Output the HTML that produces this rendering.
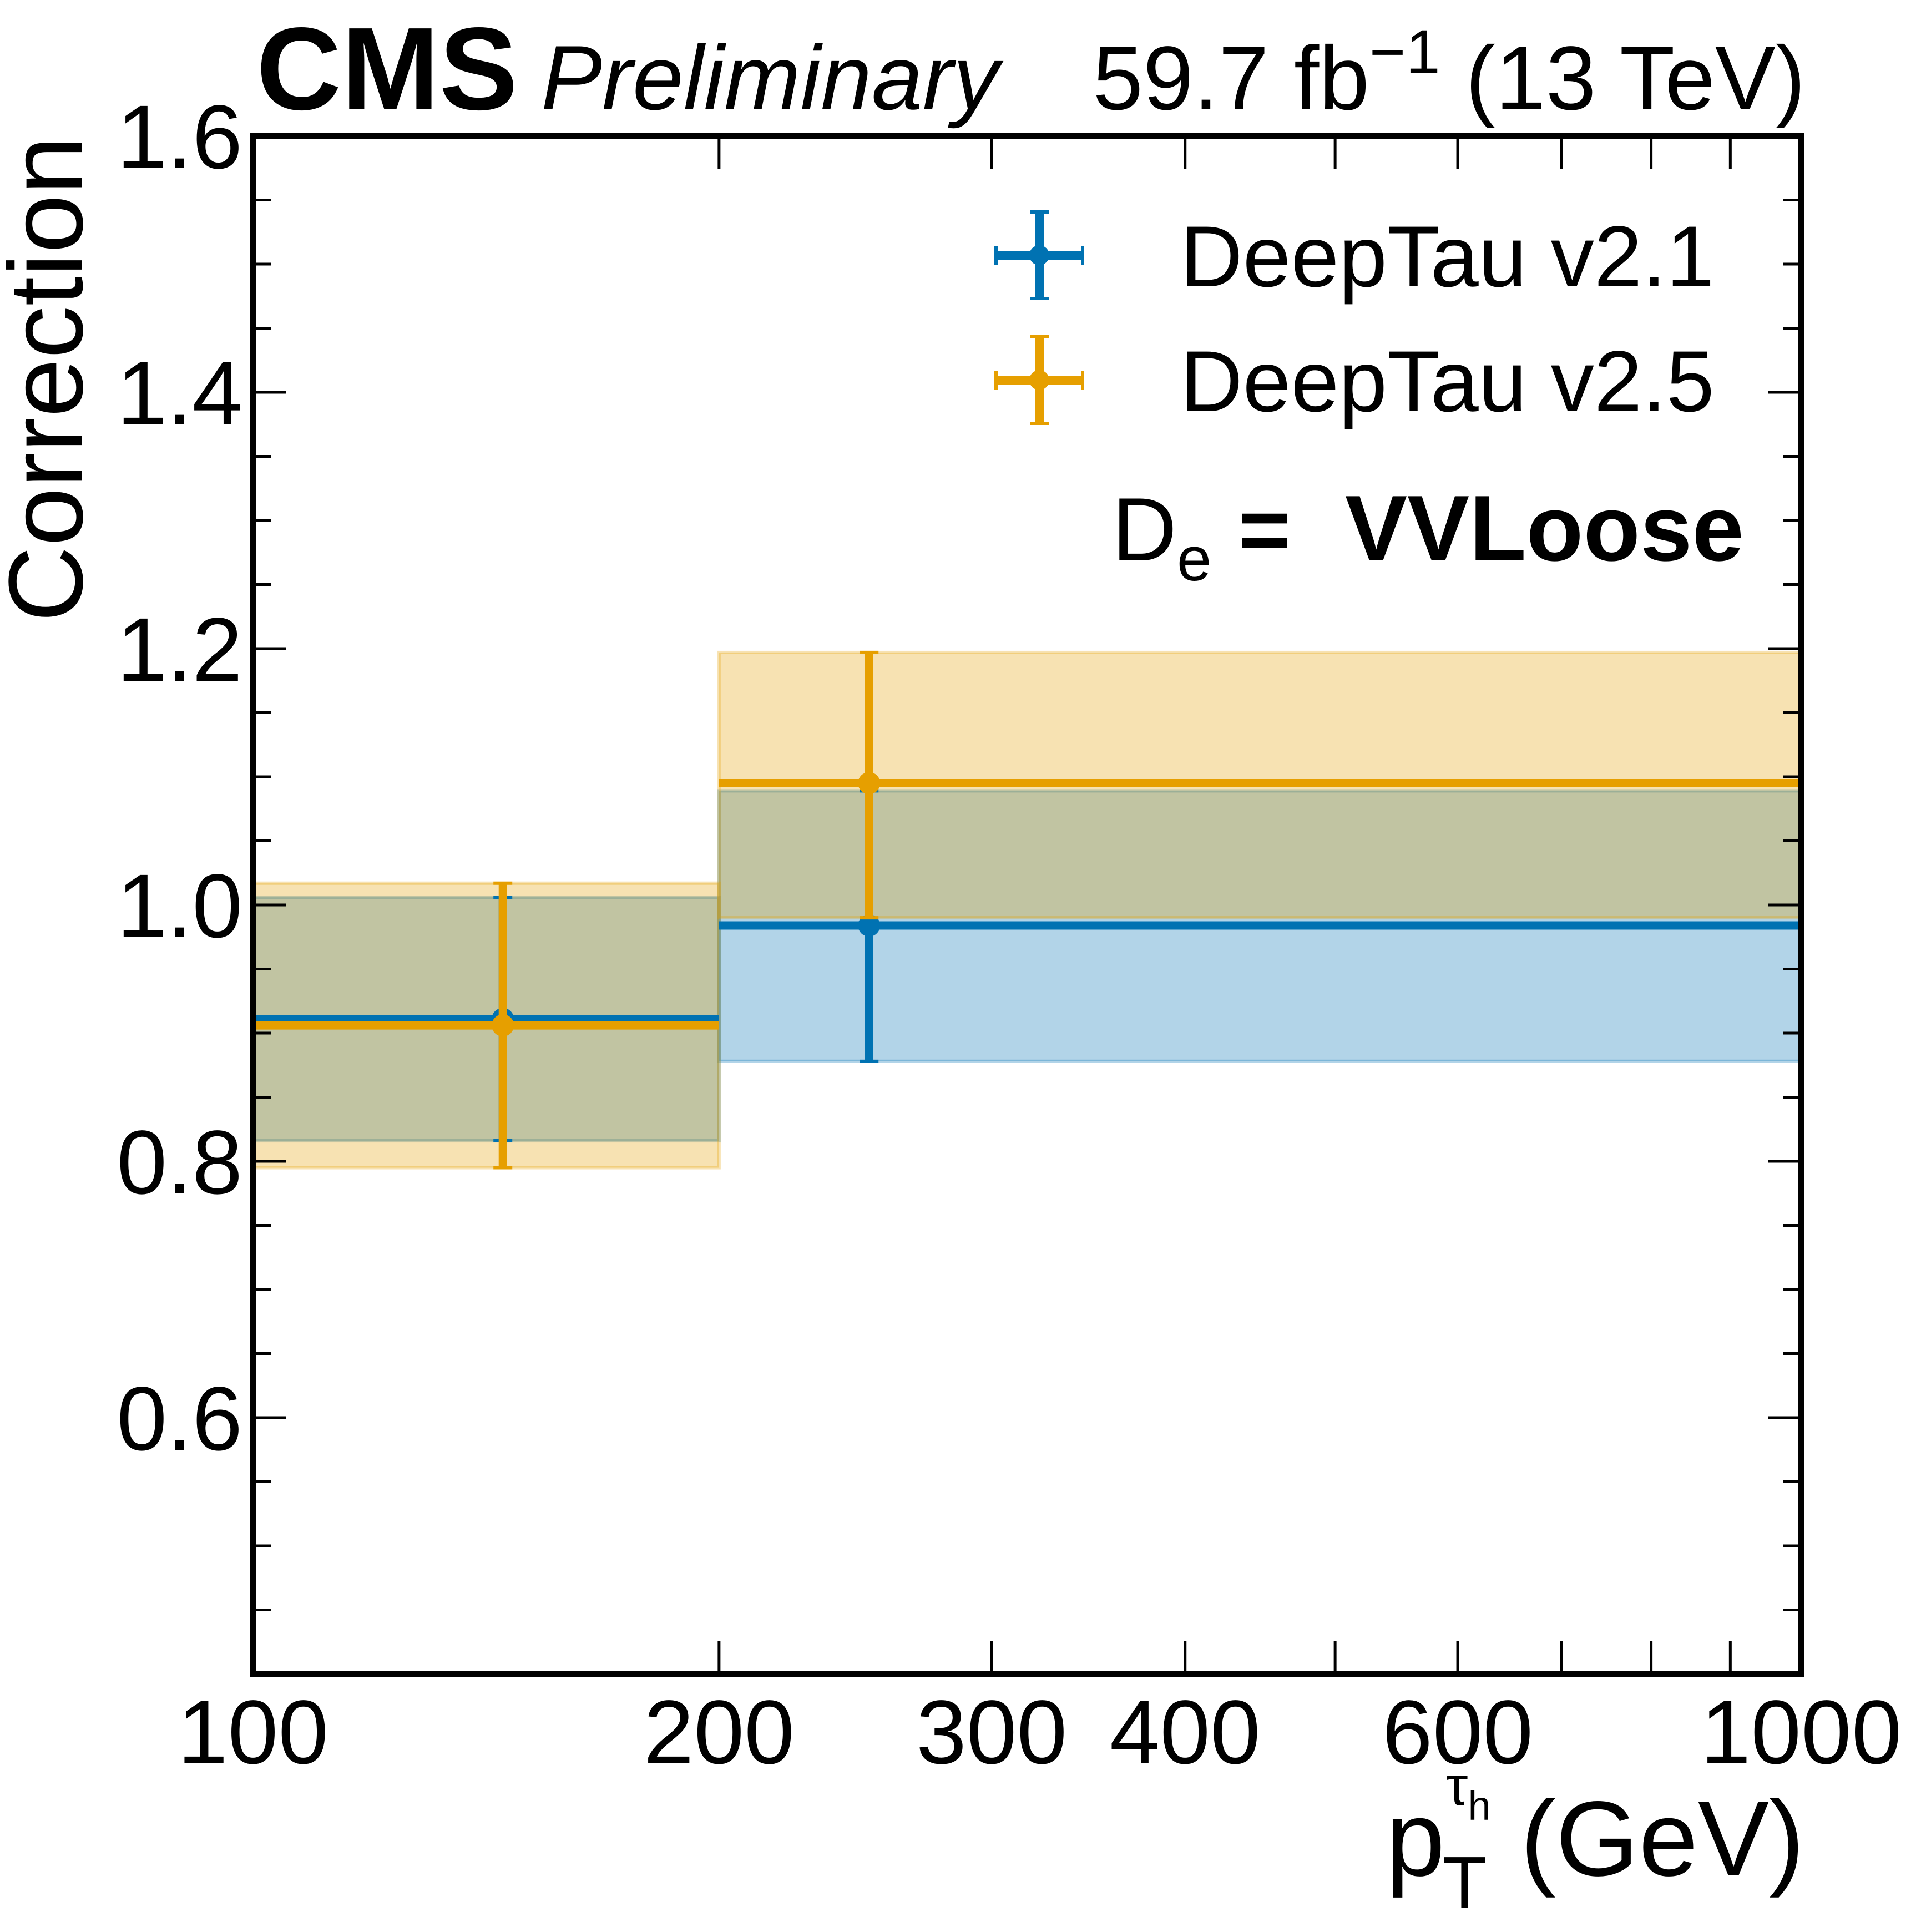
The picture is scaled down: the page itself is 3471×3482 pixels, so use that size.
<!DOCTYPE html>
<html><head><meta charset="utf-8"><style>
html,body{margin:0;padding:0;background:#fff;}
svg{display:block;}
text{font-family:"Liberation Sans",Arial,sans-serif;fill:#000;}
</style></head><body>
<svg id="chart" width="3471" height="3482" viewBox="0 0 3471 3482" xmlns="http://www.w3.org/2000/svg">
<g id="bands"></g>
<g id="marks"></g>
<g id="axes"></g>
<text x="462" y="197" font-size="212" font-weight="bold">CMS</text>
<text x="975" y="197" font-size="165" font-style="italic">Preliminary</text>
<text x="3254" y="197" font-size="163" text-anchor="end">59.7 fb<tspan dy="-65" font-size="112">−1</tspan><tspan dy="65"> (13 TeV)</tspan></text>
<text transform="translate(148,245) rotate(-90)" font-size="190" text-anchor="end">Correction</text>
<text x="3252" y="3380" font-size="192" text-anchor="end">p<tspan font-size="132" dy="58" dx="-5">T</tspan><tspan font-size="100" dy="-185" dx="-74">τ</tspan><tspan font-size="74" dy="27">h</tspan><tspan dy="100" font-size="192"> (GeV)</tspan></text>
<g id="legend"></g>
<g>
<text x="2004" y="1010" font-size="162">D<tspan font-size="112" dy="36">e</tspan></text>
<text x="2232" y="1010" font-size="162" font-weight="bold">=</text>
<text x="2424" y="1010" font-size="168" font-weight="bold">VVLoose</text>
</g>
</svg>
<script>
const binEdges = [100, 200, 1000];
const pointX = [145, 250];
const seriesNames = ["DeepTau v2.1", "DeepTau v2.5"];
const colors = ["#0072B2", "#E69F00"];
const v21Values = [0.911, 0.984];
const v21Low = [0.816, 0.878];
const v21High = [1.006, 1.089];
const v25Values = [0.906, 1.095];
const v25Low = [0.795, 0.990];
const v25High = [1.017, 1.197];
const yTickLabels = ["0.6", "0.8", "1.0", "1.2", "1.4", "1.6"];
const xTickLabels = ["100", "200", "300", "400", "600", "1000"];
const xMinor = [200,300,400,500,600,700,800,900];

const NS = "http://www.w3.org/2000/svg";
const X0 = 456, X1 = 3246, Y0 = 245, Y1 = 3017;
const xmin = 100, xmax = 1000, ymin = 0.4, ymax = 1.6;
function xs(v){ return X0 + (Math.log10(v) - Math.log10(xmin)) / (Math.log10(xmax) - Math.log10(xmin)) * (X1 - X0); }
function ys(v){ return Y1 - (v - ymin) / (ymax - ymin) * (Y1 - Y0); }
function mk(tag, attrs, parent){ const e = document.createElementNS(NS, tag); for (const k in attrs) e.setAttribute(k, attrs[k]); parent.appendChild(e); return e; }

const bands = document.getElementById('bands');
const marks = document.getElementById('marks');
const axes = document.getElementById('axes');
const legend = document.getElementById('legend');
const series = [[v21Values, v21Low, v21High], [v25Values, v25Low, v25High]];

series.forEach((s, si) => {
  for (let i = 0; i < binEdges.length - 1; i++) {
    const r = mk('rect', {x: xs(binEdges[i]), y: ys(s[2][i]), width: xs(binEdges[i+1]) - xs(binEdges[i]), height: ys(s[1][i]) - ys(s[2][i]), fill: colors[si], 'fill-opacity': 0.3, stroke: colors[si], 'stroke-opacity': 0.3, 'stroke-width': 6}, bands);
    
    
  }
});
series.forEach((s, si) => {
  const g = mk('g', {}, marks);
  
  
  for (let i = 0; i < binEdges.length - 1; i++) {
    const c = colors[si], px = xs(pointX[i]), py = ys(s[0][i]);
    const l = mk('line', {x1: xs(binEdges[i]), x2: xs(binEdges[i+1]), y1: py, y2: py, stroke: c, 'stroke-width': 15}, g);
    
    
    const v = mk('line', {x1: px, x2: px, y1: ys(s[2][i]), y2: ys(s[1][i]), stroke: c, 'stroke-width': 15}, g);
    
    
    [s[1][i], s[2][i]].forEach(cv => { mk('line', {x1: px - 17, x2: px + 17, y1: ys(cv), y2: ys(cv), stroke: c, 'stroke-width': 6}, g); });
    const p = mk('circle', {cx: px, cy: py, r: 20, fill: c}, g);
    
    
  }
});

const fr = mk('rect', {x: X0, y: Y0, width: X1 - X0, height: Y1 - Y0, fill: 'none', stroke: '#000', 'stroke-width': 12}, axes);


for (let k = 0; k <= 24; k++) {
  const v = 0.4 + k * 0.05, y = ys(v), major = (k % 4 === 0);
  const len = major ? 60 : 32;
  mk('line', {x1: X0, x2: X0 + len, y1: y, y2: y, stroke: '#000', 'stroke-width': 5}, axes);
  mk('line', {x1: X1, x2: X1 - len, y1: y, y2: y, stroke: '#000', 'stroke-width': 5}, axes);
}
yTickLabels.forEach(t => {
  const tx = mk('text', {x: 437, y: ys(parseFloat(t)) + 58, 'font-size': 163, 'text-anchor': 'end'}, axes);
  tx.textContent = t;
  
  
});
xMinor.forEach(v => {
  mk('line', {x1: xs(v), x2: xs(v), y1: Y1, y2: Y1 - 60, stroke: '#000', 'stroke-width': 5}, axes);
  mk('line', {x1: xs(v), x2: xs(v), y1: Y0, y2: Y0 + 60, stroke: '#000', 'stroke-width': 5}, axes);
});
xTickLabels.forEach(t => {
  const tx = mk('text', {x: xs(parseFloat(t)), y: 3178, 'font-size': 163, 'text-anchor': 'middle'}, axes);
  tx.textContent = t;
  
  
});

[460, 685].forEach((ly, si) => {
  const c = colors[si], lx = 1873;
  const g = mk('g', {}, legend);
  
  
  mk('line', {x1: lx - 80, x2: lx + 80, y1: ly, y2: ly, stroke: c, 'stroke-width': 16}, g);
  mk('line', {x1: lx, x2: lx, y1: ly - 80, y2: ly + 80, stroke: c, 'stroke-width': 16}, g);
  mk('line', {x1: lx - 17, x2: lx + 17, y1: ly - 78, y2: ly - 78, stroke: c, 'stroke-width': 6}, g);
  mk('line', {x1: lx - 17, x2: lx + 17, y1: ly + 78, y2: ly + 78, stroke: c, 'stroke-width': 6}, g);
  mk('line', {x1: lx - 78, x2: lx - 78, y1: ly - 17, y2: ly + 17, stroke: c, 'stroke-width': 6}, g);
  mk('line', {x1: lx + 78, x2: lx + 78, y1: ly - 17, y2: ly + 17, stroke: c, 'stroke-width': 6}, g);
  mk('circle', {cx: lx, cy: ly, r: 18, fill: c}, g);
  const t = mk('text', {x: 2127, y: ly + 56, 'font-size': 156}, g);
  t.textContent = seriesNames[si];
});
</script>
</body></html>
